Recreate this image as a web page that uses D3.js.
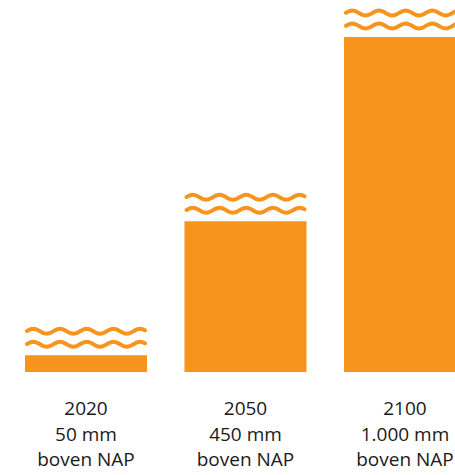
<!DOCTYPE html>
<html>
<head>
<meta charset="utf-8">
<script src="https://cdn.jsdelivr.net/npm/d3@7"></script>
<style>
  html, body { margin: 0; padding: 0; background: #fff; }
  svg { display: block; }
</style>
</head>
<body>
<svg id="chart" width="455" height="475"></svg>
<script>
const categories = ["2020", "2050", "2100"];
const values = [50, 450, 1000];
const valueLabels = ["50 mm", "450 mm", "1.000 mm"];
const unitLabels = ["boven NAP", "boven NAP", "boven NAP"];

const W = 455, H = 475;
const orange = "#f7941d";
const svg = d3.select("#chart");

const x = d3.scaleBand().domain(categories).range([25, 466]).paddingInner(0.235).paddingOuter(0);
const y = d3.scaleLinear().domain([0, 1000]).range([372, 37]);

const data = categories.map((c, i) => ({ cat: c, value: values[i], vl: valueLabels[i], ul: unitLabels[i] }));

const g = svg.append("g");

g.selectAll("rect.bar").data(data).join("rect")
  .attr("class", "bar")
  .attr("x", d => x(d.cat))
  .attr("y", d => y(d.value))
  .attr("width", x.bandwidth())
  .attr("height", d => y(0) - y(d.value))
  .attr("fill", orange);

// wavy lines above each bar
const period = 26.7, amp = 2.4;
function wavePath(x0, x1, cy) {
  const pts = [];
  for (let xx = x0 + 2; xx <= x1 - 2; xx += 0.5) {
    pts.push([xx, cy - amp * Math.cos(2 * Math.PI * (xx - (x0 + 8.3)) / period)]);
  }
  return d3.line()(pts);
}
data.forEach(d => {
  const x0 = x(d.cat), x1 = x0 + x.bandwidth();
  const top = y(d.value);
  [24, 11].forEach(off => {
    g.append("path")
      .attr("d", wavePath(x0, x1, top - off))
      .attr("fill", "none")
      .attr("stroke", orange)
      .attr("stroke-width", 4)
      .attr("stroke-linecap", "round");
  });
});

const labels = g.selectAll("text.lbl").data(data).join("text")
  .attr("class", "lbl")
  .attr("text-anchor", "middle")
  .attr("font-family", "'Open Sans', 'Noto Sans', sans-serif")
  .attr("font-size", 19)
  .attr("fill", "#1a1a1a");
labels.append("tspan").attr("x", d => x(d.cat) + x.bandwidth() / 2).attr("y", 415).text(d => d.cat);
labels.append("tspan").attr("x", d => x(d.cat) + x.bandwidth() / 2).attr("y", 441).text(d => d.vl);
labels.append("tspan").attr("x", d => x(d.cat) + x.bandwidth() / 2).attr("y", 466).text(d => d.ul);
</script>
</body>
</html>
